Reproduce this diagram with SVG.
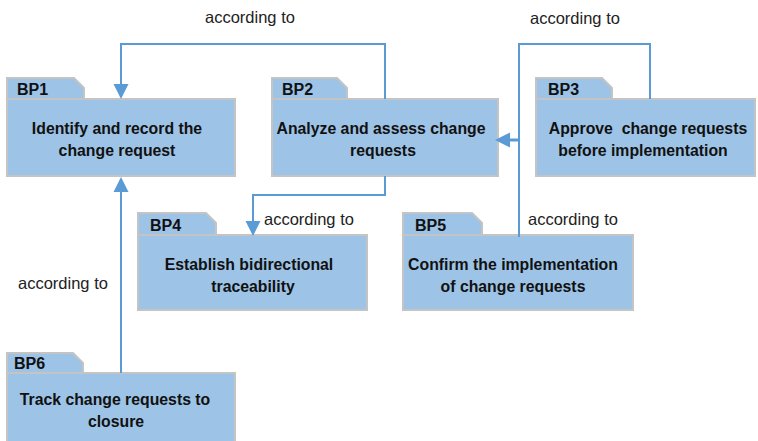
<svg xmlns="http://www.w3.org/2000/svg" width="758" height="441" viewBox="0 0 758 441">
  <defs>
    <style>
      .tab, .body { fill: #9dc3e6; stroke: #c4c4c4; stroke-width: 2; }
      .bp { font-family: "Liberation Sans", Arial, sans-serif; font-weight: bold; font-size: 16px; fill: #111; }
      .txt { font-family: "Liberation Sans", Arial, sans-serif; font-weight: bold; font-size: 15.8px; fill: #111; text-anchor: middle; }
      .lbl { font-family: "Liberation Sans", Arial, sans-serif; font-size: 16.5px; fill: #222; }
      .wire { fill: none; stroke: #5b9bd5; stroke-width: 2; }
      .head { fill: #5b9bd5; }
    </style>
  </defs>

  <rect width="758" height="441" fill="#ffffff"/>

  <!-- BP1 -->
  <g id="bp1">
    <path class="tab" d="M7,99 V78 H74 L84,88 V99 Z"/>
    <rect class="body" x="7" y="99" width="228" height="77"/>
    <text class="bp" x="17" y="95">BP1</text>
    <text class="txt" x="117" y="134">Identify and record the</text>
    <text class="txt" x="117" y="156">change request</text>
  </g>

  <!-- BP2 -->
  <g id="bp2">
    <path class="tab" d="M272,99 V78 H337 L347,88 V99 Z"/>
    <rect class="body" x="272" y="99" width="226" height="77"/>
    <text class="bp" x="282" y="95">BP2</text>
    <text class="txt" x="381" y="134">Analyze and assess change</text>
    <text class="txt" x="383" y="156">requests</text>
  </g>

  <!-- BP3 -->
  <g id="bp3">
    <path class="tab" d="M536,99 V78 H602 L612,88 V99 Z"/>
    <rect class="body" x="536" y="99" width="219" height="77"/>
    <text class="bp" x="548" y="95">BP3</text>
    <text class="txt" x="648" y="134" style="white-space:pre">Approve  change requests</text>
    <text class="txt" x="643" y="156">before implementation</text>
  </g>

  <!-- BP4 -->
  <g id="bp4">
    <path class="tab" d="M138,235 V213 H206 L216,223 V235 Z"/>
    <rect class="body" x="138" y="235" width="229" height="75"/>
    <text class="bp" x="150" y="231">BP4</text>
    <text class="txt" x="249" y="270">Establish bidirectional</text>
    <text class="txt" x="253" y="292">traceability</text>
  </g>

  <!-- BP5 -->
  <g id="bp5">
    <path class="tab" d="M403,235 V213 H472 L482,223 V235 Z"/>
    <rect class="body" x="403" y="235" width="230" height="75"/>
    <text class="bp" x="415" y="231">BP5</text>
    <text class="txt" x="513" y="270">Confirm the implementation</text>
    <text class="txt" x="513" y="292">of change requests</text>
  </g>

  <!-- BP6 -->
  <g id="bp6">
    <path class="tab" d="M7,373 V353 H73 L83,363 V373 Z"/>
    <rect class="body" x="7" y="373" width="228" height="72"/>
    <text class="bp" x="14" y="369">BP6</text>
    <text class="txt" x="115" y="405">Track change requests to</text>
    <text class="txt" x="116" y="427">closure</text>
  </g>

  <!-- connectors -->
  <g id="connectors">
    <!-- BP2 -> BP1 -->
    <path class="wire" d="M385,99 V44 H121 V86"/>
    <path class="head" d="M113.5,84 H128.5 L121,99 Z"/>
    <!-- BP3 / BP5 -> BP2 -->
    <path class="wire" d="M650,99 V44 H519 V237"/>
    <path class="wire" d="M508,140 H519" style="stroke-width:3"/>
    <path class="head" d="M510,132.5 V147.5 L495,140 Z"/>
    <!-- BP2 -> BP4 -->
    <path class="wire" d="M385,176 V195 H253 V222"/>
    <path class="head" d="M245.5,221 H260.5 L253,236 Z"/>
    <!-- BP6 -> BP1 -->
    <path class="wire" d="M121,373 V190"/>
    <path class="head" d="M113.5,192 H128.5 L121,177 Z"/>
  </g>

  <!-- connector labels -->
  <text class="lbl" x="205" y="23">according to</text>
  <text class="lbl" x="530" y="24">according to</text>
  <text class="lbl" x="264" y="225">according to</text>
  <text class="lbl" x="528" y="225">according to</text>
  <text class="lbl" x="18" y="289">according to</text>
</svg>
